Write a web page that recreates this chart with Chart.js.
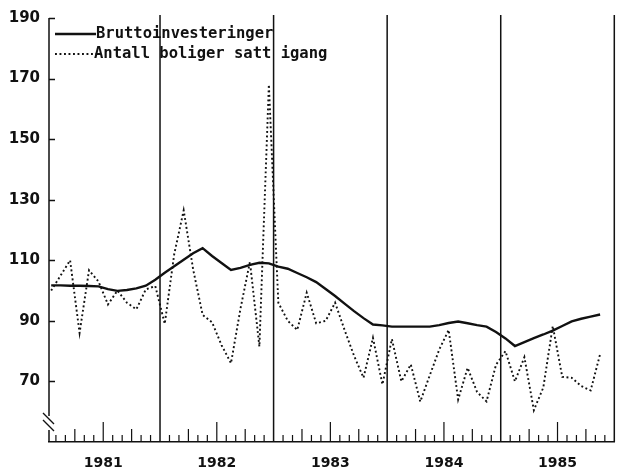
<!DOCTYPE html>
<html>
<head>
<meta charset="utf-8">
<script src="https://cdn.jsdelivr.net/npm/chart.js@4/dist/chart.umd.min.js"></script>
<style>
  html, body { margin: 0; padding: 0; background: #fff; }
  #wrap { width: 617px; height: 472px; }
</style>
</head>
<body>
<div id="wrap"><canvas id="c" width="617" height="472"></canvas></div>
<script>
// Monthly series, January 1981 - December 1985
const years = ['1981', '1982', '1983', '1984', '1985'];
const yTicks = [70, 90, 110, 130, 150, 170, 190];
const seriesNames = ['Bruttoinvesteringer', 'Antall boliger satt igang'];

const bruttoinvesteringer = [
  101.7, 101.7, 101.6, 101.6, 101.5, 101.4, 100.5, 99.9, 100.2, 100.7, 101.6, 103.6,
  105.9, 108.0, 110.2, 112.3, 114.0, 111.4, 109.1, 106.8, 107.5, 108.5, 109.2, 109.0,
  107.9, 107.2, 105.8, 104.4, 102.8, 100.5, 98.2, 95.7, 93.2, 90.9, 88.8, 88.5,
  88.1, 88.1, 88.1, 88.1, 88.1, 88.6, 89.3, 89.8, 89.2, 88.6, 88.1, 86.3,
  84.2, 81.7, 83.0, 84.3, 85.5, 86.8, 88.3, 89.8, 90.7, 91.4, 92.1, null
];

const boligerSattIgang = [
  100.0, 105.0, 110.0, 86.0, 106.7, 103.0, 95.4, 100.0, 96.0, 93.8, 100.4, 101.5,
  89.0, 112.0, 126.5, 107.0, 92.0, 89.5, 82.0, 76.0, 94.0, 109.5, 81.5, 168.0,
  96.0, 90.0, 87.0, 99.3, 89.2, 90.0, 96.0, 87.0, 78.5, 71.2, 84.4, 69.0,
  84.0, 70.0, 75.6, 63.3, 72.0, 80.5, 87.0, 64.0, 74.5, 66.5, 63.4, 75.5,
  80.0, 70.0, 78.0, 60.5, 68.0, 88.3, 71.5, 71.2, 68.5, 67.0, 79.0, null
];

// each observation sits in the middle of its month on a month-count axis
const toPoints = arr => arr.map((v, i) => ({ x: i + 0.5, y: v }));

const INK = '#111';

// axis frame, month ticks, year dividers and legend
const framePlugin = {
  id: 'frame',
  afterDatasetsDraw(chart) {
    const { ctx, chartArea, scales } = chart;
    const xs = scales.x, ys = scales.y;
    const left = chartArea.left, top = chartArea.top, bottom = chartArea.bottom;
    ctx.save();
    ctx.strokeStyle = INK;
    ctx.lineCap = 'butt';

    // left axis with a scale break near the bottom
    ctx.lineWidth = 1.5;
    ctx.beginPath();
    ctx.moveTo(left, top);
    ctx.lineTo(left, bottom - 26);
    ctx.moveTo(left, bottom - 12);
    ctx.lineTo(left, bottom);
    ctx.stroke();
    ctx.lineWidth = 1.4;
    ctx.beginPath();
    ctx.moveTo(left - 6, bottom - 29);
    ctx.lineTo(left + 5, bottom - 18);
    ctx.moveTo(left - 6, bottom - 22);
    ctx.lineTo(left + 5, bottom - 11);
    ctx.stroke();

    // inward ticks on the value axis
    ctx.lineWidth = 1.5;
    ctx.beginPath();
    yTicks.forEach(v => {
      const y = Math.round(ys.getPixelForValue(v)) + 0.5;
      ctx.moveTo(left, y);
      ctx.lineTo(left + 6, y);
    });
    ctx.stroke();

    // month ticks rising from the time axis
    ctx.lineWidth = 1.2;
    ctx.beginPath();
    for (let k = 1; k < years.length * 12; k++) {
      const m = k % 12;
      if (m === 0) continue;
      const h = m === 6 ? 20 : (m === 3 || m === 9) ? 13 : 7;
      const x = xs.getPixelForValue(k);
      ctx.moveTo(x, bottom);
      ctx.lineTo(x, bottom - h);
    }
    ctx.stroke();

    // year dividers
    ctx.lineWidth = 1.5;
    ctx.beginPath();
    for (let k = 12; k <= years.length * 12; k += 12) {
      const x = xs.getPixelForValue(k);
      ctx.moveTo(x, top - 3);
      ctx.lineTo(x, bottom);
    }
    ctx.stroke();

    // legend
    const ds = chart.data.datasets;
    const rows = [34, 54];
    ctx.font = 'bold 15.5px "DejaVu Sans Mono"';
    ctx.fillStyle = INK;
    ctx.textBaseline = 'middle';
    ds.forEach((d, i) => {
      const y = rows[i];
      ctx.lineWidth = d.borderWidth;
      ctx.setLineDash(d.borderDash || []);
      ctx.beginPath();
      ctx.moveTo(left + 6, y);
      ctx.lineTo(left + 47, y);
      ctx.stroke();
      ctx.setLineDash([]);
      ctx.fillText(d.label, left + (i === 0 ? 47 : 45), y);
    });
    ctx.restore();
  }
};

new Chart(document.getElementById('c'), {
  type: 'line',
  data: {
    datasets: [
      {
        label: seriesNames[0],
        data: toPoints(bruttoinvesteringer),
        borderColor: INK,
        borderWidth: 2.4,
        pointRadius: 0,
        tension: 0,
        fill: false
      },
      {
        label: seriesNames[1],
        data: toPoints(boligerSattIgang),
        borderColor: INK,
        borderWidth: 1.9,
        borderDash: [1.9, 2.6],
        pointRadius: 0,
        tension: 0,
        fill: false
      }
    ]
  },
  options: {
    responsive: false,
    animation: false,
    devicePixelRatio: 1,
    layout: { padding: { top: 18, right: 2.7, left: 0, bottom: 0 } },
    plugins: { legend: { display: false }, tooltip: { enabled: false } },
    scales: {
      x: {
        type: 'linear',
        min: 0.27,
        max: 60,
        afterBuildTicks(scale) {
          scale.ticks = years.map((_, i) => ({ value: i * 12 + 6 }));
        },
        afterFit(scale) { scale.height = 30; },
        grid: { display: false, drawTicks: false },
        border: { display: true, color: INK, width: 1.5 },
        ticks: {
          autoSkip: false,
          maxRotation: 0,
          padding: 13,
          color: INK,
          font: { family: '"DejaVu Sans"', size: 14, weight: 'bold' },
          callback: (v, i) => years[i]
        }
      },
      y: {
        min: 50,
        max: 190,
        afterBuildTicks(scale) {
          scale.ticks = yTicks.map(v => ({ value: v }));
        },
        afterFit(scale) { scale.width = 49; },
        grid: { display: false, drawTicks: false },
        border: { display: false },
        ticks: {
          padding: 9,
          color: INK,
          font: { family: '"DejaVu Sans"', size: 15, weight: 'bold' }
        }
      }
    }
  },
  plugins: [framePlugin]
});
</script>
</body>
</html>
